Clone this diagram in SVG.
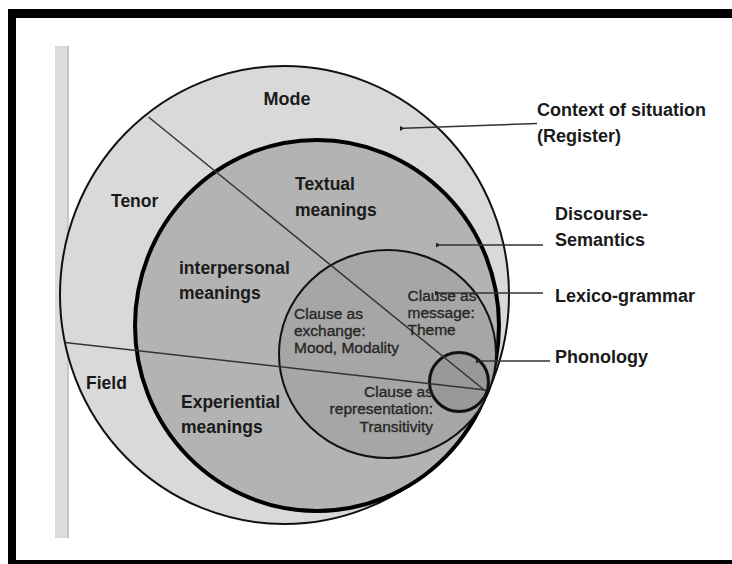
<svg xmlns="http://www.w3.org/2000/svg" width="732" height="564" viewBox="0 0 732 564">
<defs>
<marker id="ah" viewBox="0 0 6 6" refX="1" refY="3" markerWidth="5" markerHeight="5" orient="auto-start-reverse" markerUnits="userSpaceOnUse">
<path d="M6,0 L0,3 L6,6 z" fill="#222"/>
</marker>
<style>
.big{font-family:"Liberation Sans",Arial,sans-serif;font-size:18px;font-weight:bold;fill:#1a1a1a}
.lab{font-family:"Liberation Sans",Arial,sans-serif;font-size:17.5px;font-weight:bold;fill:#1a1a1a}
.sm{font-family:"Liberation Sans",Arial,sans-serif;font-size:15.5px;fill:#262626;stroke:#262626;stroke-width:0.35}
.div{stroke:#333;stroke-width:1.5;fill:none}
.arr{stroke:#333;stroke-width:1.6;fill:none;marker-end:url(#ah)}
</style>
</defs>
<rect x="0" y="0" width="732" height="564" fill="#fff"/>
<g id="frame">
<rect x="8" y="9" width="724" height="9" fill="#000"/>
<rect x="8" y="9" width="8" height="555" fill="#000"/>
<rect x="8" y="560" width="724" height="4" fill="#000"/>
</g>
<g id="bar">
<rect x="55" y="46" width="14" height="492" fill="#dcdcdc"/>
<rect x="67" y="46" width="2" height="492" fill="#c8c8c8"/>
</g>
<g id="context">
<ellipse cx="284.5" cy="295" rx="224.5" ry="229" fill="#d9d9d9" stroke="#111" stroke-width="2"/>
</g>
<g id="discourse">
<ellipse cx="317" cy="325.5" rx="182" ry="185.5" fill="#b3b3b3" stroke="#000" stroke-width="4"/>
</g>
<g id="lexicogrammar">
<ellipse cx="387.5" cy="354" rx="108.5" ry="104" fill="#a6a6a6" stroke="#111" stroke-width="2"/>
</g>
<g id="phonology">
<circle cx="459" cy="382" r="29.5" fill="#999" stroke="#111" stroke-width="3"/>
</g>
<g id="connectors">
<line class="div" x1="148.5" y1="117" x2="485.5" y2="391"/>
<line class="div" x1="65" y1="342.5" x2="485.5" y2="390"/>
<line class="arr" x1="537" y1="123.5" x2="404" y2="128.3"/>
<line class="arr" x1="543" y1="245" x2="440" y2="245"/>
<line class="arr" x1="543" y1="293" x2="439" y2="293"/>
<line class="arr" x1="550" y1="361" x2="480" y2="361"/>
</g>
<g id="labels">
<text class="big" x="287" y="105" text-anchor="middle">Mode</text>
<text class="big" x="537" y="116">Context of situation</text>
<text class="big" x="537" y="142">(Register)</text>
<text class="lab" x="111" y="207">Tenor</text>
<text class="lab" x="295" y="190">Textual</text>
<text class="lab" x="295" y="216">meanings</text>
<text class="big" x="555" y="220">Discourse-</text>
<text class="big" x="555" y="246">Semantics</text>
<text class="lab" x="179" y="274">interpersonal</text>
<text class="lab" x="179" y="299">meanings</text>
<text class="big" x="555" y="302">Lexico-grammar</text>
<text class="big" x="555" y="363">Phonology</text>
<text class="lab" x="86" y="389">Field</text>
<text class="lab" x="181" y="408">Experiential</text>
<text class="lab" x="181" y="433">meanings</text>
<text class="sm" x="407.5" y="300.5">Clause as</text>
<text class="sm" x="407.5" y="317.5">message:</text>
<text class="sm" x="407.5" y="335">Theme</text>
<text class="sm" x="294" y="318.5">Clause as</text>
<text class="sm" x="294" y="335.5">exchange:</text>
<text class="sm" x="294" y="353">Mood, Modality</text>
<text class="sm" x="433" y="396.5" text-anchor="end">Clause as</text>
<text class="sm" x="433" y="414" text-anchor="end">representation:</text>
<text class="sm" x="433" y="431.5" text-anchor="end">Transitivity</text>
</g>
</svg>
